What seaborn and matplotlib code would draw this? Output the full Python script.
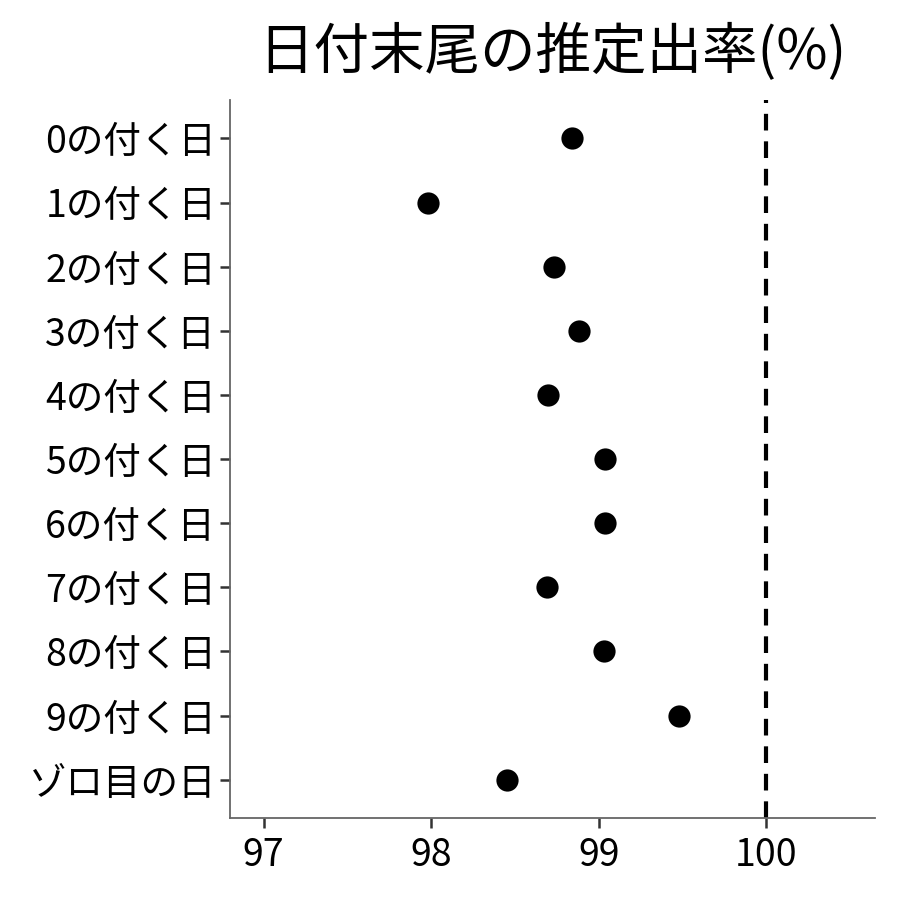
import pandas as pd
import numpy as np
import matplotlib.pyplot as plt
import seaborn as sns

# Data
days = ["0の付く日", "1の付く日", "2の付く日", "3の付く日", "4の付く日",
        "5の付く日", "6の付く日", "7の付く日", "8の付く日", "9の付く日",
        "ゾロ目の日"]
rate = [98.84, 97.98, 98.73, 98.88, 98.70, 99.04, 99.04, 98.69, 99.03, 99.48, 98.45]
x_ticks = [97, 98, 99, 100]

df = pd.DataFrame({"day": days, "rate": rate})

sns.set_style("white")
plt.rcParams['font.family'] = ['Noto Sans CJK JP', 'DejaVu Sans']

fig = plt.figure(figsize=(9, 9), dpi=100)
ax = fig.add_axes([0.2556, 0.091, 0.717, 0.798])

sns.stripplot(data=df, x="rate", y="day", order=days, jitter=False,
              color="black", size=16, ax=ax)
ax.axvline(100, color="black", linestyle=(0, (4, 2.6)), linewidth=3)

ax.set_xlim(96.8, 100.65)
ax.set_ylim(len(days) - 0.4, -0.6)
ax.set_xticks(x_ticks)
ax.set_xlabel("")
ax.set_ylabel("")
ax.set_title("日付末尾の推定出率(%)", fontsize=40, color="black", pad=22)

for side in ["top", "right"]:
    ax.spines[side].set_visible(False)
for side in ["left", "bottom"]:
    ax.spines[side].set_color("#666666")
    ax.spines[side].set_linewidth(1.3)
ax.tick_params(axis="both", which="major", bottom=True, left=True,
               labelsize=27, length=7, width=1.8,
               color="#333333", labelcolor="black", pad=3)
ax.tick_params(axis="x", pad=6)

fig.savefig("out.png", dpi=100)
